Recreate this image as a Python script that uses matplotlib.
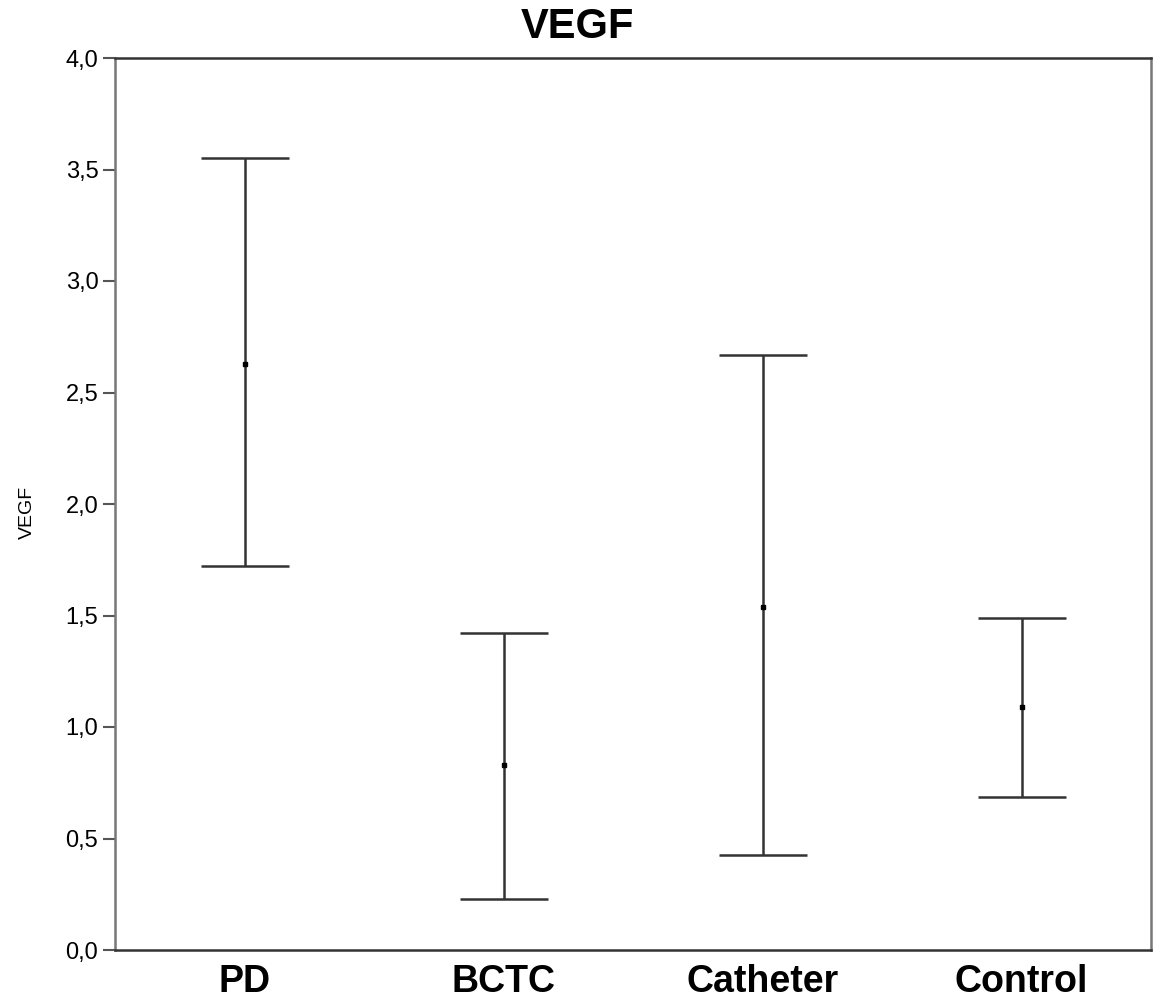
import matplotlib
matplotlib.use("Agg")
import matplotlib.pyplot as plt
import numpy as np

categories = ["PD", "BCTC", "Catheter", "Control"]
means = [2.63, 0.83, 1.54, 1.09]
upper = [3.55, 1.42, 2.67, 1.49]
lower = [1.72, 0.23, 0.425, 0.685]
yticks = [0.0, 0.5, 1.0, 1.5, 2.0, 2.5, 3.0, 3.5, 4.0]
ytick_labels = ["0,0", "0,5", "1,0", "1,5", "2,0", "2,5", "3,0", "3,5", "4,0"]

plt.rcParams['font.family'] = ['Liberation Sans', 'DejaVu Sans']

fig = plt.figure(figsize=(11.54, 9.99), dpi=100)
ax = fig.add_axes([115/1154, 49/999, 1036/1154, 892/999])

x = np.arange(len(categories))
m = np.array(means)
yerr = np.vstack([m - np.array(lower), np.array(upper) - m])
ax.errorbar(x, m, yerr=yerr, fmt='none', ecolor='#333333', elinewidth=1.8,
            capsize=32, capthick=1.8)
ax.plot(x, m, 's', color='black', ms=2.5, ls='none')

ax.set_xlim(-0.5, 3.5)
ax.set_ylim(0, 4.0)
ax.set_yticks(yticks)
ax.set_yticklabels(ytick_labels, fontsize=17)
ax.set_xticks(x)
ax.set_xticklabels(categories, fontsize=27, fontweight='bold')
ax.tick_params(axis='x', length=0, pad=10)
ax.tick_params(axis='y', length=9, width=1.5, color='#555555', pad=3)
for s in ax.spines.values():
    s.set_linewidth(1.8)
ax.spines['top'].set_color('#333333')
ax.spines['bottom'].set_color('#333333')
ax.spines['left'].set_color('#777777')
ax.spines['right'].set_color('#777777')

ax.set_ylabel("VEGF", fontsize=14)
ax.yaxis.set_label_coords(-0.076, 0.491)
fig.suptitle("VEGF", fontsize=30, fontweight='bold', x=0.5, y=1 - 27/999, va='center')

fig.savefig("out.png", dpi=100)
